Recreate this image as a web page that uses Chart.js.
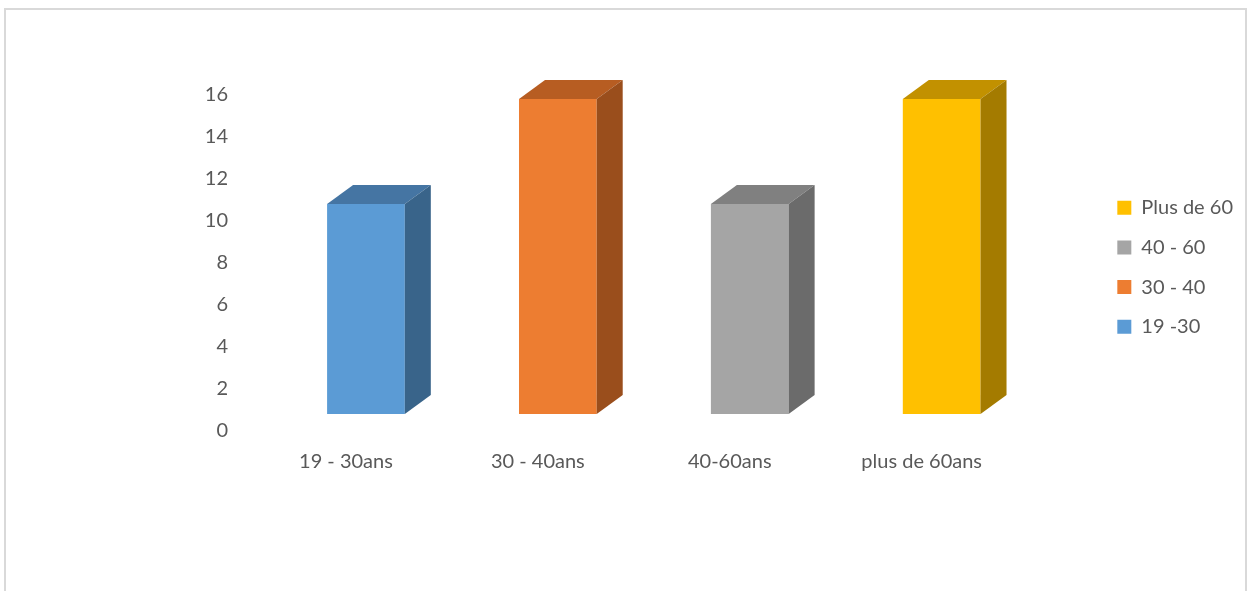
<!DOCTYPE html>
<html>
<head>
<meta charset="utf-8">
<script src="https://cdn.jsdelivr.net/npm/chart.js@4/dist/chart.umd.min.js"></script>
<style>
  html, body { margin: 0; padding: 0; background: #fff; overflow: hidden; }
  #frame {
    position: absolute; left: 4px; top: 8px; width: 1239px; height: 700px;
    border: 2px solid #d9d9d9; border-bottom: none;
  }
  #chart { position: absolute; left: 0; top: 0; }
</style>
</head>
<body>
<div id="frame"></div>
<canvas id="chart" width="1248" height="591"></canvas>
<script>
// tranches d'âge
const categories = ["19 - 30ans", "30 - 40ans", "40-60ans", "plus de 60ans"];
const seriesNames = ["19 -30", "30 - 40", "40 - 60", "Plus de 60"];
const values = [10, 15, 10, 15];
const yMax = 16;
const yStep = 2;

// face avant / dessus / côté
const frontColors = ["#5b9bd5", "#ed7d31", "#a5a5a5", "#ffc000"];
const topColors = ["#4575a3", "#b75d22", "#808080", "#c29100"];
const sideColors = ["#39648a", "#9a4e1c", "#6b6b6b", "#a47b00"];

const DEPTH_X = 26;
const DEPTH_Y = 19;
const FONT = { family: "Lato, 'Open Sans', sans-serif", size: 20 };
const TEXT_COLOR = "#595959";

// chaque série n'a qu'une barre, dans sa propre catégorie
const datasets = seriesNames.map((name, i) => ({
  label: name,
  data: categories.map((_, j) => (j === i ? values[i] : null)),
  backgroundColor: frontColors[i],
  borderWidth: 0,
  grouped: false,
  barPercentage: 0.405,
  categoryPercentage: 1.0,
}));

// dessine le dessus et le côté de chaque barre pour l'effet 3D
const box3d = {
  id: "box3d",
  afterDatasetsDraw(chart) {
    const ctx = chart.ctx;
    chart.data.datasets.forEach((ds, i) => {
      const meta = chart.getDatasetMeta(i);
      meta.data.forEach((bar, j) => {
        if (ds.data[j] == null) return;
        const { x, y, base, width } = bar.getProps(["x", "y", "base", "width"], true);
        const left = x - width / 2;
        const right = x + width / 2;
        ctx.save();
        ctx.fillStyle = topColors[i];
        ctx.beginPath();
        ctx.moveTo(left, y);
        ctx.lineTo(left + DEPTH_X, y - DEPTH_Y);
        ctx.lineTo(right + DEPTH_X, y - DEPTH_Y);
        ctx.lineTo(right, y);
        ctx.closePath();
        ctx.fill();
        ctx.fillStyle = sideColors[i];
        ctx.beginPath();
        ctx.moveTo(right, y);
        ctx.lineTo(right + DEPTH_X, y - DEPTH_Y);
        ctx.lineTo(right + DEPTH_X, base - DEPTH_Y);
        ctx.lineTo(right, base);
        ctx.closePath();
        ctx.fill();
        ctx.restore();
      });
    });
  },
};

new Chart(document.getElementById("chart"), {
  type: "bar",
  data: { labels: categories, datasets },
  options: {
    responsive: false,
    animation: false,
    devicePixelRatio: 1,
    layout: { padding: { left: 150, top: 78, right: 5, bottom: 107 } },
    scales: {
      x: {
        grid: { display: false, drawTicks: false },
        border: { display: false },
        ticks: {
          font: FONT,
          color: TEXT_COLOR,
          padding: 36,
          labelOffset: -20,
          maxRotation: 0,
        },
        afterFit(scale) { scale.height = 70; },
      },
      y: {
        min: 0,
        max: yMax,
        grid: { display: false, drawTicks: false },
        border: { display: false },
        ticks: {
          stepSize: yStep,
          font: FONT,
          color: TEXT_COLOR,
          padding: 42,
          labelOffset: 17,
        },
        afterFit(scale) { scale.width = 120; },
      },
      // espace entre le graphique et la légende
      gap: {
        type: "linear",
        position: "right",
        display: true,
        grid: { display: false, drawTicks: false },
        border: { display: false },
        ticks: { display: false },
        afterFit(scale) { scale.width = 60; },
      },
    },
    plugins: {
      legend: {
        position: "right",
        reverse: true,
        align: "start",
        maxWidth: 148,
        // titre vide qui sert de marge au-dessus des entrées
        title: {
          display: true,
          text: "",
          font: { size: 10, lineHeight: 1 },
          padding: { top: 90, bottom: 0 },
        },
        labels: {
          boxWidth: 14,
          boxHeight: 14,
          padding: 19.7,
          font: FONT,
          color: TEXT_COLOR,
        },
      },
      tooltip: { enabled: false },
    },
  },
  plugins: [box3d],
});
</script>
</body>
</html>
